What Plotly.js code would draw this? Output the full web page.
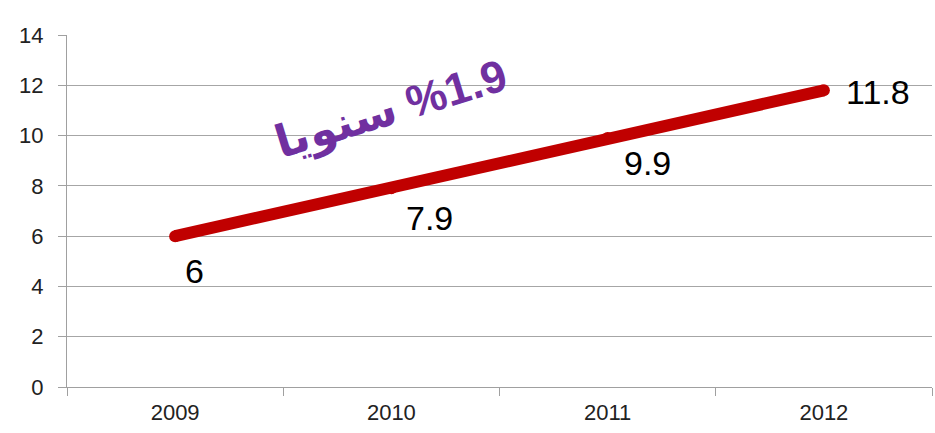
<!DOCTYPE html>
<html>
<head>
<meta charset="utf-8">
<script src="https://cdn.plot.ly/plotly-3.0.1.min.js"></script>
<style>html,body{margin:0;padding:0;background:#fff;}#chart{width:935px;height:433px;}</style>
</head>
<body>
<div id="chart"></div>
<script>
const years = ['2009', '2010', '2011', '2012'];
const values = [6, 7.9, 9.9, 11.8];
const yTicks = [0, 2, 4, 6, 8, 10, 12, 14];
const growthNote = 'سنويا \u200E%1.9';

const labelShiftX = [19, 38, 40, 54];
const labelShiftY = [-35, -30, -25, -2];

const annotations = years.map((yr, i) => ({
  x: i, y: values[i], xref: 'x', yref: 'y',
  text: String(values[i]), showarrow: false,
  xanchor: 'center', yanchor: 'middle',
  xshift: labelShiftX[i], yshift: labelShiftY[i],
  font: {family: 'Liberation Sans, Arial, sans-serif', size: 34, color: '#000'}
}));
annotations.push({
  xref: 'paper', yref: 'paper', x: 0.375, y: 0.79,
  xanchor: 'center', yanchor: 'middle',
  text: '<b>' + growthNote + '</b>', showarrow: false, textangle: -17,
  font: {family: 'Liberation Sans, DejaVu Sans, sans-serif', size: 45, color: '#7030A0'}
});

const trace = {
  x: years, y: values, type: 'scatter', mode: 'lines+markers',
  line: {color: '#C00000', width: 12},
  marker: {color: '#C00000', size: 12},
  hoverinfo: 'skip'
};

const layout = {
  width: 935, height: 433,
  margin: {l: 67, r: 3, t: 35, b: 46},
  paper_bgcolor: '#fff', plot_bgcolor: '#fff',
  showlegend: false,
  font: {family: 'Liberation Sans, Arial, sans-serif', color: '#222'},
  xaxis: {
    type: 'category', range: [-0.5, 3.5], fixedrange: true,
    showgrid: false, zeroline: false,
    showline: true, linecolor: '#a0a0a0', linewidth: 1,
    ticks: 'outside', tickson: 'boundaries', ticklen: 8, tickcolor: '#a0a0a0',
    tickfont: {size: 22, color: '#222'}, ticklabelstandoff: 6
  },
  yaxis: {
    range: [0, 14], tickvals: yTicks, fixedrange: true,
    showgrid: true, gridcolor: '#a6a6a6', gridwidth: 1,
    zeroline: false, showline: true, linecolor: '#a0a0a0', linewidth: 1,
    ticks: 'outside', ticklen: 8, tickcolor: '#a0a0a0',
    tickfont: {size: 22, color: '#222'}, ticklabelstandoff: 10
  },
  annotations: annotations
};

Plotly.newPlot('chart', [trace], layout, {staticPlot: true, displayModeBar: false});
</script>
</body>
</html>
